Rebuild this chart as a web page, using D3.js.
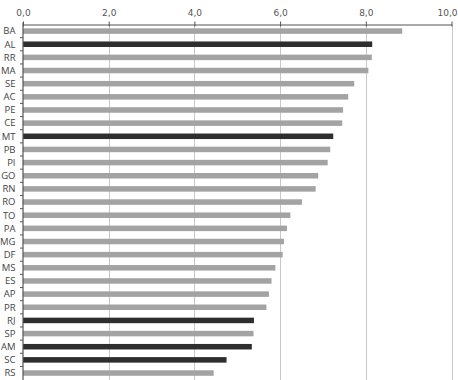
<!DOCTYPE html>
<html>
<head>
<meta charset="utf-8">
<script src="https://cdnjs.cloudflare.com/ajax/libs/d3/7.8.5/d3.min.js"></script>
<style>
  html, body { margin: 0; padding: 0; background: #fff; }
  svg { display: block; }
</style>
</head>
<body>
<div id="chart"></div>
<script>
// State codes, top to bottom
const states = ['BA', 'AL', 'RR', 'MA', 'SE', 'AC', 'PE', 'CE', 'MT', 'PB', 'PI', 'GO', 'RN', 'RO',
  'TO', 'PA', 'MG', 'DF', 'MS', 'ES', 'AP', 'PR', 'RJ', 'SP', 'AM', 'SC', 'RS'];
const values = [8.85, 8.15, 8.14, 8.06, 7.73, 7.59, 7.47, 7.45, 7.24, 7.17, 7.11, 6.89, 6.83, 6.51,
  6.24, 6.16, 6.09, 6.06, 5.89, 5.80, 5.74, 5.68, 5.39, 5.38, 5.34, 4.75, 4.45];
// highlighted states (dark bars)
const highlighted = ['AL', 'MT', 'RJ', 'AM', 'SC'];
const xTicks = [0, 2, 4, 6, 8, 10];

const W = 458, H = 380;
const x0 = 23, x1 = 451.5, yTop = 24.5, yBottom = 379.6;

const svg = d3.select('#chart').append('svg')
  .attr('width', W)
  .attr('height', H);

const x = d3.scaleLinear().domain([0, 10]).range([x0, x1]);
const y = d3.scaleBand().domain(states).range([yTop, yBottom]).paddingInner(0.58).paddingOuter(0.29);

// vertical grid
svg.append('g')
  .selectAll('line')
  .data(xTicks.filter(d => d > 0))
  .enter().append('line')
  .attr('x1', d => Math.round(x(d)) + 0.5)
  .attr('x2', d => Math.round(x(d)) + 0.5)
  .attr('y1', yTop)
  .attr('y2', H)
  .style('stroke', '#c8c8c8')
  .style('stroke-width', 1);

// bars
svg.append('g')
  .selectAll('rect')
  .data(states)
  .enter().append('rect')
  .attr('x', x(0))
  .attr('y', d => y(d))
  .attr('width', (d, i) => x(values[i]) - x(0))
  .attr('height', y.bandwidth())
  .style('fill', d => highlighted.includes(d) ? '#2e2e2e' : '#a3a3a3');

// top axis
const xAxis = d3.axisTop(x)
  .tickValues(xTicks)
  .tickSizeInner(3)
  .tickSizeOuter(0)
  .tickPadding(6)
  .tickFormat(d => d3.format('.1f')(d).replace('.', ','));

const gx = svg.append('g')
  .attr('transform', `translate(0, ${yTop})`)
  .call(xAxis);
gx.select('.domain').style('stroke', '#555').style('stroke-width', 1.2);
gx.selectAll('.tick line').style('stroke', '#555').attr('y2', 2).attr('y1', -3);
gx.selectAll('.tick text')
  .style('font-family', '"DejaVu Sans", sans-serif')
  .style('font-size', '9px')
  .style('fill', '#555');
// keep the last label inside the window
gx.selectAll('.tick text').filter(d => d === 10)
  .attr('text-anchor', 'end')
  .attr('x', W - 1 - x(10));

// left axis: label ticks between rows
const step = y.step();
const sepValues = d3.range(1, states.length);
const gy = svg.append('g');
gy.append('line')
  .attr('x1', x0).attr('x2', x0)
  .attr('y1', yTop - 2).attr('y2', H)
  .style('stroke', '#555')
  .style('stroke-width', 1.2);
gy.selectAll('line.sep')
  .data(sepValues)
  .enter().append('line')
  .attr('class', 'sep')
  .attr('x1', x0 - 3).attr('x2', x0)
  .attr('y1', d => yTop + d * step)
  .attr('y2', d => yTop + d * step)
  .style('stroke', '#555');
gy.selectAll('text')
  .data(states)
  .enter().append('text')
  .attr('x', 15.5)
  .attr('y', d => y(d) + y.bandwidth() / 2)
  .attr('dy', '0.35em')
  .attr('text-anchor', 'end')
  .style('font-family', '"Open Sans", sans-serif')
  .style('font-size', '9.5px')
  .style('fill', '#444')
  .text(d => d);
</script>
</body>
</html>
